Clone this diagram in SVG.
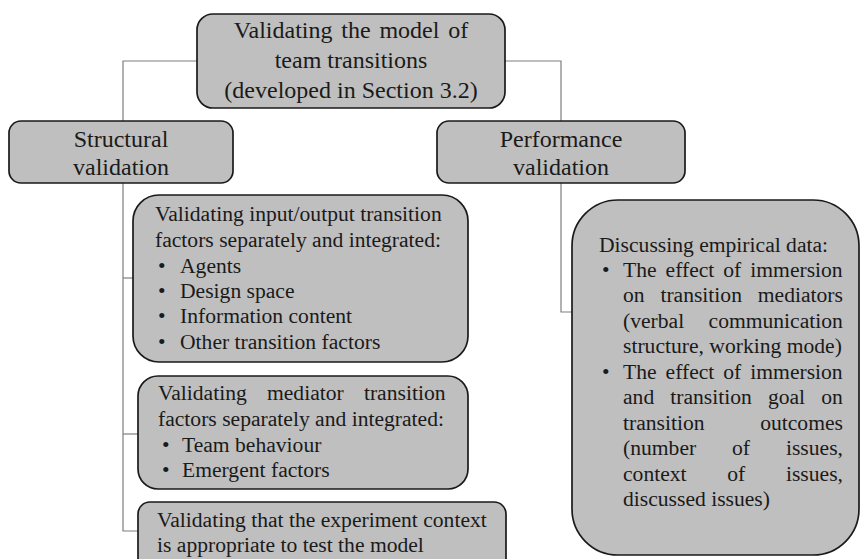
<svg xmlns="http://www.w3.org/2000/svg" width="861" height="559" viewBox="0 0 861 559">
<style>
.box{fill:#bfbfbf;stroke:#1a1a1a;stroke-width:1.7}
.con{fill:none;stroke:#7f7f7f;stroke-width:1.2}
text{font-family:"Liberation Serif","Times New Roman",serif;fill:#1a1a1a}
.h{font-size:24px}
.b{font-size:21.6px}
.c{text-anchor:middle}
</style>
<rect width="861" height="559" fill="#ffffff"/>
<g id="connectors">
<polyline class="con" points="197,61 123,61 123,121"/>
<polyline class="con" points="505,61 561,61 561,121"/>
<polyline class="con" points="123,183 123,531 138,531"/>
<line class="con" x1="123" y1="278" x2="133" y2="278"/>
<line class="con" x1="123" y1="434" x2="138" y2="434"/>
<polyline class="con" points="561,183 561,312 572,312"/>
</g>
<g id="root">
<rect class="box" x="197" y="14" width="308" height="94" rx="16"/>
<text class="h c" x="351" y="38" style="word-spacing:2.8px">Validating the model of</text>
<text class="h c" x="351" y="68">team transitions</text>
<text class="h c" x="351" y="98">(developed in Section 3.2)</text>
</g>
<g id="structural">
<rect class="box" x="9" y="121" width="224" height="62" rx="12"/>
<text class="h c" x="121" y="147">Structural</text>
<text class="h c" x="121" y="175">validation</text>
</g>
<g id="performance">
<rect class="box" x="437" y="121" width="248" height="62" rx="12"/>
<text class="h c" x="561" y="147">Performance</text>
<text class="h c" x="561" y="175">validation</text>
</g>
<g id="io-factors">
<rect class="box" x="133" y="195" width="335" height="167" rx="26"/>
<text class="b" x="155" y="221">Validating input/output transition</text>
<text class="b" x="155" y="247">factors separately and integrated:</text>
<text class="b" x="158" y="273">•</text><text class="b" x="180" y="273">Agents</text>
<text class="b" x="158" y="298">•</text><text class="b" x="180" y="298">Design space</text>
<text class="b" x="158" y="323">•</text><text class="b" x="180" y="323">Information content</text>
<text class="b" x="158" y="349">•</text><text class="b" x="180" y="349">Other transition factors</text>
</g>
<g id="mediator-factors">
<rect class="box" x="138" y="376" width="330" height="113" rx="20"/>
<text class="b" x="158" y="400" style="word-spacing:14.8px">Validating mediator transition</text>
<text class="b" x="158" y="426">factors separately and integrated:</text>
<text class="b" x="162" y="452">•</text><text class="b" x="182" y="452">Team behaviour</text>
<text class="b" x="162" y="477">•</text><text class="b" x="182" y="477">Emergent factors</text>
</g>
<g id="context">
<rect class="box" x="138" y="502" width="368" height="70" rx="12"/>
<text class="b" x="157" y="527">Validating that the experiment context</text>
<text class="b" x="157" y="552">is appropriate to test the model</text>
</g>
<g id="empirical">
<rect class="box" x="572" y="200" width="287" height="355" rx="46"/>
<text class="b" x="599" y="252">Discussing empirical data:</text>
<text class="b" x="602" y="277">•</text>
<text class="b" x="623" y="277" style="word-spacing:3.6px">The effect of immersion</text>
<text class="b" x="623" y="302" style="word-spacing:10.4px">on transition mediators</text>
<text class="b" x="623" y="328" style="word-spacing:19px">(verbal communication</text>
<text class="b" x="623" y="353">structure, working mode)</text>
<text class="b" x="602" y="379">•</text>
<text class="b" x="623" y="379" style="word-spacing:3.6px">The effect of immersion</text>
<text class="b" x="623" y="404" style="word-spacing:10.7px">and transition goal on</text>
<text class="b" x="623" y="430" style="word-spacing:50.2px">transition outcomes</text>
<text class="b" x="623" y="455" style="word-spacing:30.5px">(number of issues,</text>
<text class="b" x="623" y="481" style="word-spacing:35.3px">context of issues,</text>
<text class="b" x="623" y="506">discussed issues)</text>
</g>
</svg>
